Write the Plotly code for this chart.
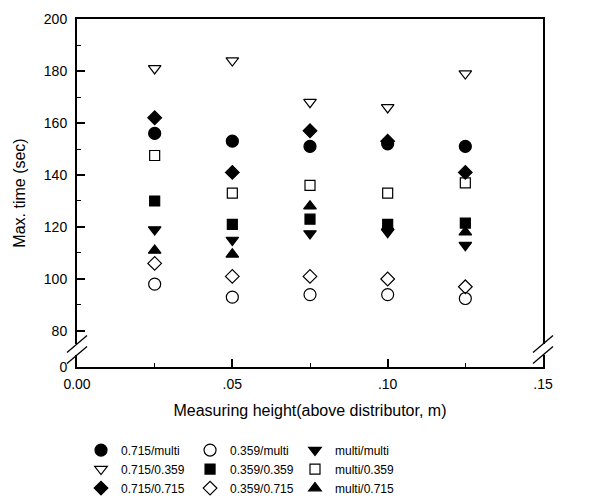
import plotly.graph_objects as go

# ---------------- data ----------------
heights = [0.025, 0.05, 0.075, 0.10, 0.125]

s_0715_multi = [156, 153, 151, 152, 151]
s_0715_0359 = [181, 184, 168, 166, 179]
s_0715_0715 = [162, 141, 157, 153, 141]
s_0359_multi = [98, 93, 94, 94, 92.5]
s_0359_0359 = [130, 121, 123, 121, 121.5]
s_0359_0715 = [106, 101, 101, 100, 97]
s_multi_multi = [119, 115, 117.5, 118, 113]
s_multi_0359 = [147.5, 133, 136, 133, 137]
s_multi_0715 = [111, 109.5, 128, 120, 118]

x_tickvals = [0.0, 0.05, 0.10, 0.15]
x_ticktext = ["0.00", ".05", ".10", ".15"]
x_minor = [0.025, 0.075, 0.125]

y_bottom = 66.15          # axis position shown as "0" (broken axis)
y_tickvals = [y_bottom, 80, 100, 120, 140, 160, 180, 200]
y_ticktext = ["0", "80", "100", "120", "140", "160", "180", "200"]
y_minor = [90, 110, 130, 150, 170, 190]

FONT = "Liberation Sans, Arial, Helvetica, sans-serif"

series = [
    # name, values, symbol, legend, size
    ("0.715/multi", s_0715_multi, "circle", "legend", 12),
    ("0.715/0.359", s_0715_0359, "triangle-down-open", "legend", 11),
    ("0.715/0.715", s_0715_0715, "diamond", "legend", 10.5),
    ("0.359/multi", s_0359_multi, "circle-open", "legend2", 12),
    ("0.359/0.359", s_0359_0359, "square", "legend2", 10),
    ("0.359/0.715", s_0359_0715, "diamond-open", "legend2", 10.5),
    ("multi/multi", s_multi_multi, "triangle-down", "legend3", 11),
    ("multi/0.359", s_multi_0359, "square-open", "legend3", 10),
    ("multi/0.715", s_multi_0715, "triangle-up", "legend3", 11),
]

fig = go.Figure()
for name, vals, sym, leg, sz in series:
    fig.add_trace(go.Scatter(
        x=heights, y=vals, mode="markers", name=name, legend=leg,
        marker=dict(symbol=sym, size=sz, color="black",
                    line=dict(color="black", width=1.2)),
    ))

axis_common = dict(
    showline=True, linecolor="black", linewidth=2, mirror=True,
    showgrid=False, zeroline=False,
    ticks="inside", ticklen=8, tickwidth=1.5, tickcolor="black",
    tickfont=dict(family=FONT, size=14, color="black"),
)

fig.update_xaxes(
    range=[0, 0.15], tickmode="array", tickvals=x_tickvals, ticktext=x_ticktext,
    ticklabelstandoff=3,
    minor=dict(tickmode="array", tickvals=x_minor, ticks="inside", ticklen=4,
               tickwidth=1.2, tickcolor="black"),
    title=dict(text="Measuring height(above distributor, m)",
               font=dict(family=FONT, size=16, color="black"), standoff=14),
    **axis_common,
)
fig.update_yaxes(
    range=[y_bottom, 200], tickmode="array", tickvals=y_tickvals, ticktext=y_ticktext,
    ticklabelstandoff=5,
    minor=dict(tickmode="array", tickvals=y_minor, ticks="inside", ticklen=4,
               tickwidth=1.2, tickcolor="black"),
    title=dict(text="Max. time (sec)",
               font=dict(family=FONT, size=16, color="black"), standoff=14),
    **axis_common,
)

# axis break marks (left and right), in paper coords with pixel offsets
def to_paper(v):
    return (v - y_bottom) / (200 - y_bottom)

b_hi = to_paper(75.0)
b_lo = to_paper(70.8)
shapes = []
for xa in (0, 1):
    shapes.append(dict(type="rect", xref="paper", yref="paper",
                       xsizemode="pixel", xanchor=xa, x0=-3, x1=3,
                       y0=b_lo, y1=b_hi, fillcolor="white",
                       line=dict(width=0), layer="above"))
    for yc in (b_hi, b_lo):
        shapes.append(dict(type="line", xref="paper", yref="paper",
                           xsizemode="pixel", ysizemode="pixel",
                           xanchor=xa, yanchor=yc, x0=-10, x1=10, y0=-8.5, y1=8.5,
                           line=dict(color="black", width=1.3), layer="above"))

leg_common = dict(orientation="v", xanchor="left", yanchor="top",
                  bgcolor="rgba(0,0,0,0)", tracegroupgap=0, itemwidth=30,
                  font=dict(family=FONT, size=12, color="black"))

fig.update_layout(
    width=595, height=497,
    margin=dict(l=77, r=52, t=19, b=130, autoexpand=False),
    paper_bgcolor="white", plot_bgcolor="white",
    font=dict(family=FONT, color="black"),
    shapes=shapes,
    showlegend=True,
    legend=dict(x=0.0086, y=-0.197, **leg_common),
    legend2=dict(x=0.2426, y=-0.197, **leg_common),
    legend3=dict(x=0.4678, y=-0.197, **leg_common),
)

fig.write_html("out.html", config={"displayModeBar": False},
               post_script="document.body.style.margin='0';")
